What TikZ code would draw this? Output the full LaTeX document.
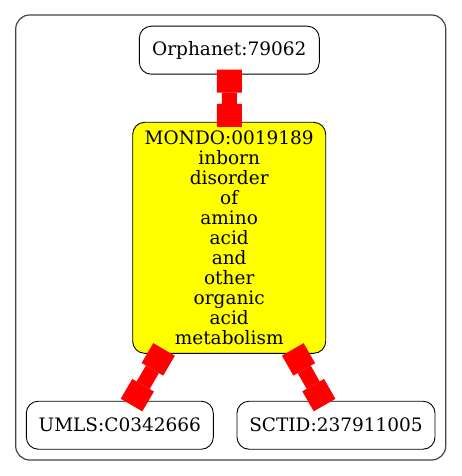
\documentclass[tikz,border=0pt]{standalone}
\usepackage{fontspec}
\usepackage{tikz}
\usetikzlibrary{arrows.meta,positioning}
\newfontfamily\termfont{DejaVu Serif}
\definecolor{frameline}{HTML}{444444}
\definecolor{linkred}{HTML}{FF0000}
\definecolor{hitfill}{HTML}{FFFF00}
\tikzset{
  termbox/.style={draw, rounded corners=12pt, align=center, inner sep=0pt,
    minimum height=48pt, line width=0.9pt,
    font={\termfont\fontsize{18.5}{20}\selectfont}},
  hitbox/.style={termbox, fill=hitfill},
  linkarr/.style={{Square[length=23pt,width=25pt,line width=0pt]}-{Square[length=23pt,width=25pt,line width=0pt]},
    line width=15pt, draw=linkred, shorten <=-5pt, shorten >=-5pt}
}
\begin{document}
\begin{tikzpicture}[x=1pt,y=-1pt]
        \useasboundingbox (0,0) rectangle (461,476);
        \draw[frameline, line width=1.2pt, rounded corners=14pt] (15.7,15) rectangle (445.7,460);
        \node[termbox, minimum width=180pt] (orphanet) at (229.3,50.2) {Orphanet:79062};
        \node[hitbox, minimum width=193pt, minimum height=231pt] (mondo) at (229.2,237.8)
          {MONDO:0019189\\inborn\\disorder\\of\\amino\\acid\\and\\other\\organic\\acid\\metabolism};
        \node[termbox, minimum width=187pt] (umls) at (119.8,425.2) {UMLS:C0342666};
        \node[termbox, minimum width=198pt] (sctid) at (336,425.2) {SCTID:237911005};
        \draw[linkarr] (orphanet) -- (mondo);
        \draw[linkarr] (mondo) -- (umls);
        \draw[linkarr] (mondo) -- (sctid);
      \end{tikzpicture}
\end{document}
